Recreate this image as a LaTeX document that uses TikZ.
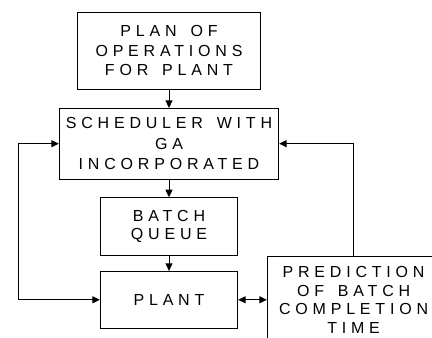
\documentclass[tikz,border=0pt]{standalone}
\usepackage{fontspec}
\setmainfont{Liberation Sans}[LetterSpace=30,WordSpace=1.5]
\usetikzlibrary{arrows.meta}
\begin{document}
\begin{tikzpicture}[x=1pt,y=-1pt,
  box/.style={draw=black, line width=0.9pt, align=center, inner sep=0pt,
    font=\fontsize{16}{#1}\selectfont},
  box/.default=19.5,
  boxtext/.style={align=center, inner sep=0pt, font=\fontsize{16}{18.7}\selectfont},
  conn/.style={line width=0.9pt, -{Triangle[length=7.5pt,width=7pt]}},
  dconn/.style={line width=0.9pt, {Triangle[length=7.5pt,width=7pt]}-{Triangle[length=7.5pt,width=7pt]}}]
\useasboundingbox (0,0) rectangle (432,338);
\clip (0,0) rectangle (432,338);
\node[box=19.5, minimum width=182.6pt, minimum height=76.7pt] (plan) at (169,50.7) {PLAN OF\\OPERATIONS\\FOR PLANT};
\node[box=20.3, minimum width=219.4pt, minimum height=70.7pt] (sched) at (169,143.7) {SCHEDULER WITH\\GA\\INCORPORATED};
\node[box=18.7, minimum width=137.4pt, minimum height=57.3pt] (queue) at (169,226.3) {BATCH\\QUEUE};
\node[box, minimum width=137.4pt, minimum height=57pt] (plant) at (169,299.8) {PLANT};
\node[box, minimum width=172.6pt, minimum height=82.4pt] (pred) at (353.6,297.9) {};
\node[boxtext] (predtext) at (353.6,299.8) {PREDICTION\\OF BATCH\\COMPLETION\\TIME};
\draw[conn] (plan.south) -- (sched.north);
\draw[conn] (sched.south) -- (queue.north);
\draw[conn] (queue.south) -- (plant.north);
\draw[dconn] (plant.east) -- (plant.east -| pred.west);
\draw[dconn] (sched.west) -- ++(-40.6,0) |- (plant.west);
\draw[conn] (pred.north) |- (sched.east);
\end{tikzpicture}
\end{document}
